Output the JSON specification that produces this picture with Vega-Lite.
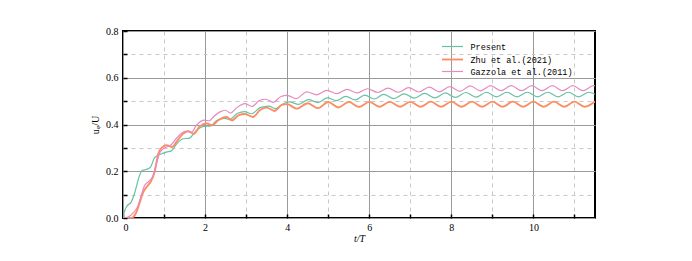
{
  "$schema": "https://vega.github.io/schema/vega-lite/v6.json",
  "width": 472,
  "height": 187,
  "autosize": "none",
  "padding": {"left": 123, "top": 31, "right": 97, "bottom": 43},
  "background": "white",
  "config": {
    "view": {"stroke": "#000", "strokeWidth": 2},
    "axis": {
      "labelFont": "Liberation Serif",
      "labelFontSize": 10,
      "labelColor": "#000",
      "titleFont": "Liberation Serif",
      "titleFontSize": 10,
      "titleFontWeight": "normal",
      "titleColor": "#000",
      "domain": false,
      "tickColor": "#000",
      "tickWidth": 1.5,
      "grid": true
    }
  },
  "data": {
    "values": [
      {"series": "Present", "t": 0, "u": 0},
      {"series": "Present", "t": 0.04, "u": 0.03},
      {"series": "Present", "t": 0.1, "u": 0.052},
      {"series": "Present", "t": 0.2, "u": 0.068},
      {"series": "Present", "t": 0.29, "u": 0.11},
      {"series": "Present", "t": 0.39, "u": 0.175},
      {"series": "Present", "t": 0.47, "u": 0.204},
      {"series": "Present", "t": 0.57, "u": 0.208},
      {"series": "Present", "t": 0.67, "u": 0.218},
      {"series": "Present", "t": 0.77, "u": 0.258},
      {"series": "Present", "t": 0.9, "u": 0.272},
      {"series": "Present", "t": 1.06, "u": 0.282},
      {"series": "Present", "t": 1.18, "u": 0.287},
      {"series": "Present", "t": 1.3, "u": 0.315},
      {"series": "Present", "t": 1.45, "u": 0.338},
      {"series": "Present", "t": 1.62, "u": 0.342},
      {"series": "Present", "t": 1.79, "u": 0.375},
      {"series": "Present", "t": 1.98, "u": 0.392},
      {"series": "Present", "t": 2.13, "u": 0.393},
      {"series": "Present", "t": 2.28, "u": 0.417},
      {"series": "Present", "t": 2.48, "u": 0.426},
      {"series": "Present", "t": 2.6, "u": 0.421},
      {"series": "Present", "t": 2.78, "u": 0.447},
      {"series": "Present", "t": 2.97, "u": 0.455},
      {"series": "Present", "t": 3.13, "u": 0.446},
      {"series": "Present", "t": 3.34, "u": 0.472},
      {"series": "Present", "t": 3.55, "u": 0.479},
      {"series": "Present", "t": 3.71, "u": 0.468},
      {"series": "Present", "t": 3.91, "u": 0.489},
      {"series": "Present", "t": 4.05, "u": 0.497},
      {"series": "Present", "t": 4.28, "u": 0.486},
      {"series": "Present", "t": 4.52, "u": 0.506},
      {"series": "Present", "t": 4.75, "u": 0.494},
      {"series": "Present", "t": 4.98, "u": 0.514},
      {"series": "Present", "t": 5.2, "u": 0.502},
      {"series": "Present", "t": 5.43, "u": 0.52},
      {"series": "Present", "t": 5.66, "u": 0.505},
      {"series": "Present", "t": 5.89, "u": 0.526},
      {"series": "Present", "t": 6.12, "u": 0.509},
      {"series": "Present", "t": 6.35, "u": 0.529},
      {"series": "Present", "t": 6.6, "u": 0.511},
      {"series": "Present", "t": 6.85, "u": 0.531},
      {"series": "Present", "t": 7.1, "u": 0.513},
      {"series": "Present", "t": 7.35, "u": 0.533},
      {"series": "Present", "t": 7.6, "u": 0.514},
      {"series": "Present", "t": 7.85, "u": 0.535},
      {"series": "Present", "t": 8.1, "u": 0.516},
      {"series": "Present", "t": 8.35, "u": 0.537},
      {"series": "Present", "t": 8.6, "u": 0.517},
      {"series": "Present", "t": 8.85, "u": 0.538},
      {"series": "Present", "t": 9.1, "u": 0.518},
      {"series": "Present", "t": 9.35, "u": 0.538},
      {"series": "Present", "t": 9.6, "u": 0.518},
      {"series": "Present", "t": 9.85, "u": 0.538},
      {"series": "Present", "t": 10.1, "u": 0.518},
      {"series": "Present", "t": 10.35, "u": 0.538},
      {"series": "Present", "t": 10.6, "u": 0.518},
      {"series": "Present", "t": 10.85, "u": 0.538},
      {"series": "Present", "t": 11.1, "u": 0.518},
      {"series": "Present", "t": 11.35, "u": 0.538},
      {"series": "Present", "t": 11.5, "u": 0.53},

      {"series": "Zhu et al.(2021)", "t": 0, "u": 0},
      {"series": "Zhu et al.(2021)", "t": 0.2, "u": 0},
      {"series": "Zhu et al.(2021)", "t": 0.27, "u": 0.008},
      {"series": "Zhu et al.(2021)", "t": 0.33, "u": 0.026},
      {"series": "Zhu et al.(2021)", "t": 0.41, "u": 0.068},
      {"series": "Zhu et al.(2021)", "t": 0.49, "u": 0.11},
      {"series": "Zhu et al.(2021)", "t": 0.61, "u": 0.14},
      {"series": "Zhu et al.(2021)", "t": 0.69, "u": 0.16},
      {"series": "Zhu et al.(2021)", "t": 0.77, "u": 0.197},
      {"series": "Zhu et al.(2021)", "t": 0.86, "u": 0.275},
      {"series": "Zhu et al.(2021)", "t": 0.94, "u": 0.3},
      {"series": "Zhu et al.(2021)", "t": 1.06, "u": 0.311},
      {"series": "Zhu et al.(2021)", "t": 1.2, "u": 0.304},
      {"series": "Zhu et al.(2021)", "t": 1.3, "u": 0.325},
      {"series": "Zhu et al.(2021)", "t": 1.47, "u": 0.361},
      {"series": "Zhu et al.(2021)", "t": 1.59, "u": 0.371},
      {"series": "Zhu et al.(2021)", "t": 1.72, "u": 0.36},
      {"series": "Zhu et al.(2021)", "t": 1.87, "u": 0.392},
      {"series": "Zhu et al.(2021)", "t": 2.04, "u": 0.404},
      {"series": "Zhu et al.(2021)", "t": 2.17, "u": 0.397},
      {"series": "Zhu et al.(2021)", "t": 2.32, "u": 0.418},
      {"series": "Zhu et al.(2021)", "t": 2.52, "u": 0.432},
      {"series": "Zhu et al.(2021)", "t": 2.66, "u": 0.418},
      {"series": "Zhu et al.(2021)", "t": 2.81, "u": 0.439},
      {"series": "Zhu et al.(2021)", "t": 2.97, "u": 0.445},
      {"series": "Zhu et al.(2021)", "t": 3.17, "u": 0.432},
      {"series": "Zhu et al.(2021)", "t": 3.34, "u": 0.462},
      {"series": "Zhu et al.(2021)", "t": 3.5, "u": 0.472},
      {"series": "Zhu et al.(2021)", "t": 3.69, "u": 0.458},
      {"series": "Zhu et al.(2021)", "t": 3.87, "u": 0.484},
      {"series": "Zhu et al.(2021)", "t": 4.0, "u": 0.487},
      {"series": "Zhu et al.(2021)", "t": 4.23, "u": 0.468},
      {"series": "Zhu et al.(2021)", "t": 4.5, "u": 0.491},
      {"series": "Zhu et al.(2021)", "t": 4.75, "u": 0.47},
      {"series": "Zhu et al.(2021)", "t": 5.0, "u": 0.496},
      {"series": "Zhu et al.(2021)", "t": 5.25, "u": 0.473},
      {"series": "Zhu et al.(2021)", "t": 5.5, "u": 0.497},
      {"series": "Zhu et al.(2021)", "t": 5.75, "u": 0.475},
      {"series": "Zhu et al.(2021)", "t": 6.0, "u": 0.497},
      {"series": "Zhu et al.(2021)", "t": 6.25, "u": 0.476},
      {"series": "Zhu et al.(2021)", "t": 6.5, "u": 0.497},
      {"series": "Zhu et al.(2021)", "t": 6.75, "u": 0.476},
      {"series": "Zhu et al.(2021)", "t": 7.0, "u": 0.497},
      {"series": "Zhu et al.(2021)", "t": 7.25, "u": 0.476},
      {"series": "Zhu et al.(2021)", "t": 7.5, "u": 0.498},
      {"series": "Zhu et al.(2021)", "t": 7.75, "u": 0.476},
      {"series": "Zhu et al.(2021)", "t": 8.0, "u": 0.498},
      {"series": "Zhu et al.(2021)", "t": 8.25, "u": 0.476},
      {"series": "Zhu et al.(2021)", "t": 8.5, "u": 0.498},
      {"series": "Zhu et al.(2021)", "t": 8.75, "u": 0.476},
      {"series": "Zhu et al.(2021)", "t": 9.0, "u": 0.498},
      {"series": "Zhu et al.(2021)", "t": 9.25, "u": 0.476},
      {"series": "Zhu et al.(2021)", "t": 9.5, "u": 0.498},
      {"series": "Zhu et al.(2021)", "t": 9.75, "u": 0.476},
      {"series": "Zhu et al.(2021)", "t": 10.0, "u": 0.498},
      {"series": "Zhu et al.(2021)", "t": 10.25, "u": 0.476},
      {"series": "Zhu et al.(2021)", "t": 10.5, "u": 0.498},
      {"series": "Zhu et al.(2021)", "t": 10.75, "u": 0.476},
      {"series": "Zhu et al.(2021)", "t": 11.0, "u": 0.498},
      {"series": "Zhu et al.(2021)", "t": 11.25, "u": 0.476},
      {"series": "Zhu et al.(2021)", "t": 11.5, "u": 0.498},

      {"series": "Gazzola et al.(2011)", "t": 0, "u": 0},
      {"series": "Gazzola et al.(2011)", "t": 0.12, "u": 0.004},
      {"series": "Gazzola et al.(2011)", "t": 0.24, "u": 0.02},
      {"series": "Gazzola et al.(2011)", "t": 0.37, "u": 0.054},
      {"series": "Gazzola et al.(2011)", "t": 0.45, "u": 0.1},
      {"series": "Gazzola et al.(2011)", "t": 0.53, "u": 0.14},
      {"series": "Gazzola et al.(2011)", "t": 0.65, "u": 0.16},
      {"series": "Gazzola et al.(2011)", "t": 0.73, "u": 0.18},
      {"series": "Gazzola et al.(2011)", "t": 0.81, "u": 0.23},
      {"series": "Gazzola et al.(2011)", "t": 0.9, "u": 0.28},
      {"series": "Gazzola et al.(2011)", "t": 1.02, "u": 0.3},
      {"series": "Gazzola et al.(2011)", "t": 1.15, "u": 0.31},
      {"series": "Gazzola et al.(2011)", "t": 1.3, "u": 0.34},
      {"series": "Gazzola et al.(2011)", "t": 1.43, "u": 0.364},
      {"series": "Gazzola et al.(2011)", "t": 1.55, "u": 0.372},
      {"series": "Gazzola et al.(2011)", "t": 1.67, "u": 0.367},
      {"series": "Gazzola et al.(2011)", "t": 1.79, "u": 0.397},
      {"series": "Gazzola et al.(2011)", "t": 1.98, "u": 0.419},
      {"series": "Gazzola et al.(2011)", "t": 2.1, "u": 0.415},
      {"series": "Gazzola et al.(2011)", "t": 2.2, "u": 0.432},
      {"series": "Gazzola et al.(2011)", "t": 2.36, "u": 0.454},
      {"series": "Gazzola et al.(2011)", "t": 2.49, "u": 0.461},
      {"series": "Gazzola et al.(2011)", "t": 2.62, "u": 0.449},
      {"series": "Gazzola et al.(2011)", "t": 2.77, "u": 0.472},
      {"series": "Gazzola et al.(2011)", "t": 2.97, "u": 0.489},
      {"series": "Gazzola et al.(2011)", "t": 3.14, "u": 0.477},
      {"series": "Gazzola et al.(2011)", "t": 3.32, "u": 0.502},
      {"series": "Gazzola et al.(2011)", "t": 3.48, "u": 0.508},
      {"series": "Gazzola et al.(2011)", "t": 3.66, "u": 0.495},
      {"series": "Gazzola et al.(2011)", "t": 3.85, "u": 0.52},
      {"series": "Gazzola et al.(2011)", "t": 4.0, "u": 0.525},
      {"series": "Gazzola et al.(2011)", "t": 4.22, "u": 0.511},
      {"series": "Gazzola et al.(2011)", "t": 4.48, "u": 0.54},
      {"series": "Gazzola et al.(2011)", "t": 4.72, "u": 0.527},
      {"series": "Gazzola et al.(2011)", "t": 4.97, "u": 0.546},
      {"series": "Gazzola et al.(2011)", "t": 5.21, "u": 0.532},
      {"series": "Gazzola et al.(2011)", "t": 5.46, "u": 0.55},
      {"series": "Gazzola et al.(2011)", "t": 5.71, "u": 0.535},
      {"series": "Gazzola et al.(2011)", "t": 5.96, "u": 0.553},
      {"series": "Gazzola et al.(2011)", "t": 6.21, "u": 0.537},
      {"series": "Gazzola et al.(2011)", "t": 6.46, "u": 0.556},
      {"series": "Gazzola et al.(2011)", "t": 6.71, "u": 0.538},
      {"series": "Gazzola et al.(2011)", "t": 6.96, "u": 0.558},
      {"series": "Gazzola et al.(2011)", "t": 7.21, "u": 0.539},
      {"series": "Gazzola et al.(2011)", "t": 7.46, "u": 0.56},
      {"series": "Gazzola et al.(2011)", "t": 7.71, "u": 0.54},
      {"series": "Gazzola et al.(2011)", "t": 7.96, "u": 0.562},
      {"series": "Gazzola et al.(2011)", "t": 8.21, "u": 0.542},
      {"series": "Gazzola et al.(2011)", "t": 8.46, "u": 0.565},
      {"series": "Gazzola et al.(2011)", "t": 8.71, "u": 0.544},
      {"series": "Gazzola et al.(2011)", "t": 8.96, "u": 0.566},
      {"series": "Gazzola et al.(2011)", "t": 9.21, "u": 0.545},
      {"series": "Gazzola et al.(2011)", "t": 9.46, "u": 0.566},
      {"series": "Gazzola et al.(2011)", "t": 9.71, "u": 0.545},
      {"series": "Gazzola et al.(2011)", "t": 9.96, "u": 0.566},
      {"series": "Gazzola et al.(2011)", "t": 10.21, "u": 0.545},
      {"series": "Gazzola et al.(2011)", "t": 10.46, "u": 0.566},
      {"series": "Gazzola et al.(2011)", "t": 10.71, "u": 0.545},
      {"series": "Gazzola et al.(2011)", "t": 10.96, "u": 0.566},
      {"series": "Gazzola et al.(2011)", "t": 11.21, "u": 0.545},
      {"series": "Gazzola et al.(2011)", "t": 11.46, "u": 0.566},
      {"series": "Gazzola et al.(2011)", "t": 11.5, "u": 0.565}
    ]
  },
  "mark": {"type": "line", "interpolate": "monotone", "clip": true},
  "encoding": {
    "x": {
      "field": "t",
      "type": "quantitative",
      "scale": {"domain": [0, 11.5], "nice": false, "zero": false},
      "axis": {
        "title": "t/T",
        "titleFontStyle": "italic",
        "titlePadding": 1,
        "values": [0, 1, 2, 3, 4, 5, 6, 7, 8, 9, 10, 11],
        "labelExpr": "datum.value % 2 == 0 ? datum.label : ''",
        "tickSize": -4,
        "labelPadding": 8,
        "gridColor": {"condition": {"test": "datum.value % 2 == 0", "value": "#9a9a9a"}, "value": "#c8c8c8"},
        "gridDash": {"condition": {"test": "datum.value % 2 == 0", "value": []}, "value": [4, 4]},
        "gridWidth": 1
      }
    },
    "y": {
      "field": "u",
      "type": "quantitative",
      "scale": {"domain": [0, 0.8], "nice": false},
      "axis": {
        "title": "uᵩ/U",
        "titlePadding": 5,
        "values": [0, 0.1, 0.2, 0.3, 0.4, 0.5, 0.6, 0.7, 0.8],
        "format": ".1f",
        "labelExpr": "round(datum.value * 10) % 2 == 0 ? datum.label : ''",
        "tickSize": -4,
        "labelPadding": 9,
        "gridColor": {"condition": {"test": "round(datum.value * 10) % 2 == 0", "value": "#9a9a9a"}, "value": "#c8c8c8"},
        "gridDash": {"condition": {"test": "round(datum.value * 10) % 2 == 0", "value": []}, "value": [4, 4]},
        "gridWidth": 1
      }
    },
    "color": {
      "field": "series",
      "type": "nominal",
      "scale": {
        "domain": ["Present", "Zhu et al.(2021)", "Gazzola et al.(2011)"],
        "range": ["#66c2a5", "#fc8d62", "#e78ac3"]
      },
      "legend": {
        "title": null,
        "orient": "none",
        "legendX": 323,
        "legendY": 9.5,
        "padding": 0,
        "symbolType": "M-2,0H2",
        "symbolSize": 110,
        "symbolStrokeWidth": 1.3,
        "labelOffset": 11.5,
        "rowPadding": 1.5,
        "labelFont": "Liberation Mono",
        "labelFontSize": 8.5,
        "labelColor": "#000"
      }
    },
    "strokeWidth": {
      "field": "series",
      "type": "nominal",
      "scale": {
        "type": "ordinal",
        "domain": ["Present", "Zhu et al.(2021)", "Gazzola et al.(2011)"],
        "range": [1.2, 1.9, 1.2]
      },
      "legend": null
    }
  }
}
